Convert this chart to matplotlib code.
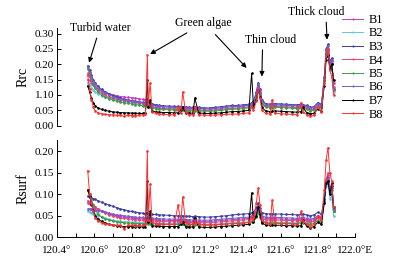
import matplotlib
matplotlib.use('Agg')
import matplotlib.pyplot as plt
from matplotlib.ticker import FixedLocator, FixedFormatter, MultipleLocator

plt.rcParams['font.family'] = ['Liberation Serif', 'DejaVu Serif']
plt.rcParams['mathtext.fontset'] = 'stix'

# longitude of the samples (deg E)
lon = [120.565, 120.575, 120.585, 120.595, 120.605, 120.62, 120.64, 120.66, 120.68, 120.70,
       120.72, 120.74, 120.76, 120.78, 120.80, 120.82, 120.84, 120.86, 120.875, 120.885,
       120.89, 120.90, 120.91, 120.93, 120.95, 120.97, 121.00, 121.03, 121.05, 121.065,
       121.075, 121.09, 121.11, 121.13, 121.14, 121.16, 121.19, 121.22, 121.25, 121.28,
       121.31, 121.34, 121.37, 121.40, 121.43, 121.445, 121.455, 121.47, 121.48, 121.49,
       121.50, 121.52, 121.545, 121.555, 121.57, 121.60, 121.63, 121.66, 121.69, 121.71,
       121.72, 121.74, 121.76, 121.78, 121.80, 121.82, 121.835, 121.845, 121.855, 121.865,
       121.875, 121.885]

bands = ['B1', 'B2', 'B3', 'B4', 'B5', 'B6', 'B7', 'B8']
colors = ['#c03cb4', '#5cc8dc', '#3c3ca0', '#e8407c', '#3c9c3c', '#7a5cc8', 'black', '#ff3030']

# Rrc (top panel)
rrc_b1 = [0.150, 0.148, 0.140, 0.132, 0.125, 0.118, 0.112, 0.108, 0.104, 0.100, 0.098, 0.095, 0.094, 0.092, 0.091, 0.090, 0.088, 0.086,
          0.085, 0.086, 0.080, 0.075, 0.070, 0.066, 0.064, 0.062, 0.060, 0.059,
          0.058, 0.058, 0.058, 0.057, 0.056, 0.056, 0.057, 0.056, 0.055, 0.055, 0.056, 0.058, 0.060, 0.062, 0.062, 0.064, 0.066,
          0.070, 0.075, 0.100, 0.130, 0.110, 0.080, 0.068, 0.066, 0.067, 0.068, 0.067, 0.066, 0.065, 0.064,
          0.066, 0.064, 0.062, 0.057, 0.058, 0.070, 0.066, 0.150, 0.235, 0.250, 0.200, 0.210, 0.140]
rrc_b2 = [0.140, 0.132, 0.124, 0.116, 0.110, 0.104, 0.098, 0.093, 0.090, 0.087, 0.084, 0.082, 0.080, 0.078, 0.076, 0.074, 0.072, 0.070,
          0.068, 0.069, 0.066, 0.064, 0.062, 0.060, 0.058, 0.057, 0.056, 0.055,
          0.055, 0.054, 0.054, 0.053, 0.052, 0.052, 0.053, 0.052, 0.051, 0.051, 0.052, 0.054, 0.056, 0.058, 0.058, 0.060, 0.062,
          0.066, 0.071, 0.095, 0.125, 0.105, 0.076, 0.064, 0.062, 0.063, 0.064, 0.063, 0.062, 0.061, 0.060,
          0.062, 0.060, 0.058, 0.053, 0.054, 0.066, 0.062, 0.140, 0.225, 0.240, 0.190, 0.200, 0.110]
rrc_b3 = [0.195, 0.180, 0.165, 0.150, 0.140, 0.128, 0.118, 0.110, 0.104, 0.098, 0.094, 0.090, 0.086, 0.084, 0.082, 0.080, 0.078, 0.076,
          0.074, 0.075, 0.072, 0.072, 0.070, 0.068, 0.066, 0.065, 0.064, 0.063,
          0.063, 0.062, 0.062, 0.061, 0.060, 0.060, 0.061, 0.060, 0.058, 0.058, 0.060, 0.062, 0.064, 0.066, 0.066, 0.068, 0.070,
          0.075, 0.080, 0.110, 0.140, 0.120, 0.085, 0.072, 0.070, 0.071, 0.072, 0.071, 0.070, 0.069, 0.068,
          0.070, 0.068, 0.066, 0.060, 0.062, 0.075, 0.070, 0.160, 0.250, 0.265, 0.210, 0.220, 0.120]
rrc_b4 = [0.170, 0.160, 0.148, 0.136, 0.126, 0.116, 0.106, 0.099, 0.094, 0.090, 0.087, 0.084, 0.082, 0.080, 0.078, 0.077, 0.075, 0.073,
          0.071, 0.072, 0.068, 0.065, 0.062, 0.060, 0.058, 0.056, 0.055, 0.054,
          0.054, 0.053, 0.053, 0.052, 0.051, 0.051, 0.052, 0.051, 0.050, 0.050, 0.051, 0.053, 0.055, 0.057, 0.057, 0.059, 0.061,
          0.065, 0.070, 0.095, 0.125, 0.105, 0.075, 0.063, 0.061, 0.062, 0.063, 0.062, 0.061, 0.060, 0.059,
          0.061, 0.059, 0.057, 0.052, 0.053, 0.065, 0.061, 0.145, 0.230, 0.245, 0.195, 0.205, 0.125]
rrc_b5 = [0.185, 0.170, 0.152, 0.136, 0.122, 0.110, 0.100, 0.093, 0.088, 0.084, 0.080, 0.077, 0.075, 0.073, 0.071, 0.069, 0.067, 0.065,
          0.064, 0.066, 0.062, 0.060, 0.058, 0.056, 0.054, 0.053, 0.052, 0.051,
          0.051, 0.050, 0.050, 0.049, 0.048, 0.048, 0.049, 0.048, 0.047, 0.047, 0.048, 0.050, 0.052, 0.054, 0.054, 0.056, 0.058,
          0.064, 0.068, 0.090, 0.120, 0.100, 0.072, 0.060, 0.058, 0.059, 0.060, 0.059, 0.058, 0.057, 0.056,
          0.058, 0.056, 0.054, 0.049, 0.050, 0.062, 0.058, 0.150, 0.230, 0.240, 0.190, 0.200, 0.120]
rrc_b6 = [0.190, 0.175, 0.160, 0.146, 0.136, 0.124, 0.114, 0.106, 0.100, 0.095, 0.091, 0.087, 0.084, 0.082, 0.080, 0.078, 0.076, 0.074,
          0.072, 0.073, 0.070, 0.069, 0.067, 0.065, 0.063, 0.062, 0.061, 0.060,
          0.060, 0.059, 0.059, 0.058, 0.057, 0.057, 0.058, 0.057, 0.055, 0.055, 0.057, 0.059, 0.061, 0.063, 0.063, 0.065, 0.067,
          0.072, 0.077, 0.105, 0.135, 0.115, 0.082, 0.069, 0.067, 0.068, 0.069, 0.068, 0.067, 0.066, 0.065,
          0.067, 0.065, 0.063, 0.058, 0.059, 0.072, 0.067, 0.155, 0.245, 0.258, 0.205, 0.215, 0.115]
rrc_b7 = [0.130, 0.110, 0.090, 0.075, 0.065, 0.058, 0.053, 0.050, 0.047, 0.045, 0.044, 0.043, 0.042, 0.042, 0.041, 0.041, 0.040, 0.040,
          0.042, 0.150, 0.060, 0.085, 0.048, 0.045, 0.044, 0.043, 0.043, 0.042,
          0.042, 0.050, 0.060, 0.042, 0.041, 0.041, 0.090, 0.042, 0.040, 0.040, 0.041, 0.042, 0.044, 0.046, 0.046, 0.048, 0.050,
          0.170, 0.060, 0.085, 0.115, 0.095, 0.060, 0.048, 0.046, 0.047, 0.048, 0.047, 0.046, 0.045, 0.044,
          0.046, 0.060, 0.043, 0.039, 0.040, 0.055, 0.048, 0.130, 0.215, 0.230, 0.185, 0.200, 0.150]
rrc_b8 = [0.165, 0.120, 0.085, 0.060, 0.048, 0.042, 0.039, 0.037, 0.036, 0.035, 0.034, 0.034, 0.030, 0.034, 0.033, 0.033, 0.034, 0.035,
          0.038, 0.230, 0.070, 0.140, 0.045, 0.040, 0.038, 0.037, 0.036, 0.036,
          0.060, 0.040, 0.110, 0.045, 0.036, 0.036, 0.060, 0.036, 0.034, 0.034, 0.035, 0.036, 0.037, 0.038, 0.038, 0.040, 0.042,
          0.060, 0.050, 0.080, 0.120, 0.090, 0.050, 0.040, 0.038, 0.085, 0.040, 0.039, 0.038, 0.037, 0.036,
          0.075, 0.045, 0.036, 0.030, 0.034, 0.060, 0.045, 0.140, 0.230, 0.250, 0.180, 0.160, 0.100]

# Rsurf (bottom panel)
rs_b1 = [0.080, 0.078, 0.076, 0.073, 0.070, 0.066, 0.062, 0.058, 0.055, 0.052, 0.050, 0.048, 0.047, 0.046, 0.045, 0.044, 0.043, 0.043,
         0.042, 0.043, 0.042, 0.042, 0.041, 0.041, 0.040, 0.040, 0.039, 0.039,
         0.039, 0.039, 0.039, 0.038, 0.038, 0.037, 0.038, 0.037, 0.037, 0.037, 0.038, 0.039, 0.040, 0.041, 0.042, 0.043, 0.044,
         0.046, 0.047, 0.056, 0.068, 0.056, 0.046, 0.044, 0.043, 0.043, 0.043, 0.043, 0.042, 0.042, 0.041,
         0.042, 0.043, 0.041, 0.039, 0.041, 0.047, 0.044, 0.085, 0.130, 0.145, 0.110, 0.120, 0.060]
rs_b2 = [0.060, 0.059, 0.057, 0.055, 0.053, 0.050, 0.047, 0.044, 0.042, 0.040, 0.038, 0.037, 0.036, 0.036, 0.035, 0.035, 0.034, 0.034,
         0.034, 0.035, 0.034, 0.034, 0.033, 0.033, 0.033, 0.033, 0.032, 0.032,
         0.032, 0.032, 0.032, 0.031, 0.031, 0.031, 0.031, 0.031, 0.030, 0.030, 0.031, 0.032, 0.033, 0.034, 0.035, 0.035, 0.036,
         0.038, 0.039, 0.048, 0.060, 0.048, 0.038, 0.036, 0.035, 0.035, 0.035, 0.035, 0.035, 0.034, 0.034,
         0.035, 0.036, 0.034, 0.032, 0.034, 0.040, 0.037, 0.080, 0.120, 0.125, 0.090, 0.095, 0.050]
rs_b3 = [0.095, 0.094, 0.092, 0.090, 0.088, 0.085, 0.081, 0.078, 0.075, 0.072, 0.069, 0.066, 0.064, 0.062, 0.060, 0.058, 0.057, 0.056,
         0.055, 0.056, 0.055, 0.054, 0.053, 0.053, 0.052, 0.052, 0.051, 0.050,
         0.050, 0.050, 0.050, 0.049, 0.049, 0.048, 0.049, 0.048, 0.047, 0.047, 0.048, 0.049, 0.050, 0.052, 0.053, 0.054, 0.055,
         0.057, 0.058, 0.068, 0.080, 0.068, 0.057, 0.055, 0.054, 0.054, 0.054, 0.054, 0.053, 0.053, 0.052,
         0.053, 0.054, 0.052, 0.050, 0.052, 0.058, 0.055, 0.090, 0.130, 0.140, 0.110, 0.120, 0.060]
rs_b4 = [0.085, 0.082, 0.078, 0.074, 0.070, 0.065, 0.060, 0.056, 0.052, 0.049, 0.047, 0.045, 0.044, 0.043, 0.042, 0.041, 0.040, 0.040,
         0.039, 0.040, 0.039, 0.039, 0.038, 0.038, 0.037, 0.037, 0.036, 0.036,
         0.036, 0.036, 0.036, 0.035, 0.035, 0.034, 0.035, 0.034, 0.034, 0.034, 0.035, 0.036, 0.037, 0.038, 0.039, 0.040, 0.041,
         0.043, 0.044, 0.053, 0.065, 0.053, 0.043, 0.041, 0.040, 0.040, 0.040, 0.040, 0.039, 0.039, 0.038,
         0.039, 0.040, 0.038, 0.036, 0.038, 0.044, 0.041, 0.085, 0.135, 0.150, 0.115, 0.125, 0.065]
rs_b5 = [0.110, 0.100, 0.088, 0.076, 0.064, 0.054, 0.047, 0.043, 0.040, 0.038, 0.036, 0.035, 0.034, 0.033, 0.033, 0.032, 0.032, 0.032,
         0.032, 0.033, 0.032, 0.032, 0.031, 0.031, 0.031, 0.030, 0.030, 0.030,
         0.030, 0.030, 0.030, 0.029, 0.029, 0.029, 0.029, 0.029, 0.028, 0.028, 0.029, 0.030, 0.031, 0.032, 0.033, 0.033, 0.034,
         0.036, 0.037, 0.046, 0.058, 0.046, 0.036, 0.034, 0.033, 0.033, 0.033, 0.033, 0.033, 0.032, 0.032,
         0.033, 0.034, 0.032, 0.030, 0.032, 0.038, 0.035, 0.085, 0.125, 0.135, 0.105, 0.110, 0.060]
rs_b6 = [0.065, 0.066, 0.066, 0.065, 0.064, 0.062, 0.060, 0.058, 0.056, 0.054, 0.052, 0.051, 0.050, 0.049, 0.048, 0.047, 0.046, 0.046,
         0.045, 0.046, 0.045, 0.045, 0.044, 0.044, 0.043, 0.043, 0.042, 0.042,
         0.042, 0.042, 0.042, 0.041, 0.041, 0.040, 0.041, 0.040, 0.040, 0.040, 0.041, 0.042, 0.043, 0.044, 0.045, 0.046, 0.047,
         0.049, 0.050, 0.060, 0.072, 0.060, 0.049, 0.047, 0.046, 0.046, 0.046, 0.046, 0.045, 0.045, 0.044,
         0.045, 0.046, 0.044, 0.042, 0.044, 0.050, 0.047, 0.085, 0.125, 0.135, 0.105, 0.115, 0.065]
rs_b7 = [0.110, 0.095, 0.078, 0.062, 0.050, 0.042, 0.037, 0.033, 0.030, 0.028, 0.027, 0.026, 0.025, 0.025, 0.025, 0.024, 0.024, 0.024,
         0.025, 0.130, 0.035, 0.060, 0.027, 0.026, 0.026, 0.025, 0.025, 0.025,
         0.025, 0.030, 0.035, 0.025, 0.024, 0.024, 0.045, 0.024, 0.023, 0.023, 0.024, 0.025, 0.026, 0.027, 0.028, 0.029, 0.030,
         0.103, 0.035, 0.050, 0.070, 0.055, 0.033, 0.029, 0.028, 0.028, 0.028, 0.028, 0.027, 0.027, 0.026,
         0.027, 0.040, 0.026, 0.022, 0.025, 0.035, 0.030, 0.080, 0.125, 0.130, 0.100, 0.125, 0.070]
rs_b8 = [0.155, 0.100, 0.080, 0.060, 0.045, 0.038, 0.034, 0.031, 0.030, 0.029, 0.028, 0.028, 0.020, 0.028, 0.028, 0.027, 0.028, 0.028,
         0.030, 0.200, 0.040, 0.124, 0.035, 0.032, 0.031, 0.031, 0.030, 0.030,
         0.075, 0.035, 0.094, 0.035, 0.030, 0.030, 0.040, 0.030, 0.029, 0.029, 0.029, 0.030, 0.031, 0.032, 0.032, 0.033, 0.035,
         0.050, 0.040, 0.080, 0.115, 0.075, 0.040, 0.033, 0.032, 0.087, 0.033, 0.032, 0.032, 0.031, 0.030,
         0.060, 0.038, 0.030, 0.025, 0.030, 0.050, 0.040, 0.110, 0.180, 0.208, 0.150, 0.130, 0.070]

rrc = [rrc_b1, rrc_b2, rrc_b3, rrc_b4, rrc_b5, rrc_b6, rrc_b7, rrc_b8]
rsurf = [rs_b1, rs_b2, rs_b3, rs_b4, rs_b5, rs_b6, rs_b7, rs_b8]

xticks = [120.4, 120.6, 120.8, 121.0, 121.2, 121.4, 121.6, 121.8, 122.0]
xticklabels = ['120.4°', '120.6°', '120.8°', '121.0°', '121.2°', '121.4°', '121.6°', '121.8°', '122.0°E']
rrc_ticks = [0.00, 0.05, 0.10, 0.15, 0.20, 0.25, 0.30]
rrc_ticklabels = ['0.00', '0.05', '1.10', '0.15', '0.20', '0.25', '0.30']
rs_ticks = [0.00, 0.05, 0.10, 0.15, 0.20]

fig = plt.figure(figsize=(3.97, 2.63), dpi=100)
ax1 = fig.add_axes([0.1436, 0.522, 0.7506, 0.3715])
ax2 = fig.add_axes([0.1436, 0.0977, 0.7506, 0.370])

for i in range(8):
    ax1.plot(lon, rrc[i], color=colors[i], lw=0.7, marker='.', markersize=1.8, label=bands[i])
    ax2.plot(lon, rsurf[i], color=colors[i], lw=0.7, marker='.', markersize=1.8, label=bands[i])

for ax in (ax1, ax2):
    ax.set_xlim(120.4, 122.0)
    ax.spines['top'].set_visible(False)
    ax.spines['right'].set_visible(False)
    ax.tick_params(direction='in', labelsize=8, length=3, width=0.7, pad=2)
    for s in ax.spines.values():
        s.set_linewidth(0.7)

ax1.spines['bottom'].set_visible(False)
ax1.set_xticks([])
ax1.set_ylim(0, 0.318)
ax1.yaxis.set_major_locator(FixedLocator(rrc_ticks))
ax1.yaxis.set_major_formatter(FixedFormatter(rrc_ticklabels))
ax1.set_ylabel('Rrc', fontsize=10, labelpad=4)

ax2.set_ylim(0, 0.226)
ax2.set_yticks(rs_ticks)
ax2.set_yticklabels(['%.2f' % t for t in rs_ticks])
ax2.set_xticks(xticks)
ax2.set_xticklabels(xticklabels)
ax2.xaxis.set_minor_locator(MultipleLocator(0.1))
ax2.tick_params(axis='x', which='both', direction='in', length=3, width=0.7, pad=6)
ax2.set_ylabel('Rsurf', fontsize=10, labelpad=4)

ap = dict(arrowstyle='-|>', color='k', lw=0.8, mutation_scale=7, shrinkA=1, shrinkB=0)
ax1.annotate('Turbid water', xy=(120.572, 0.205), xytext=(120.63, 0.318), ha='center', va='center',
             fontsize=8.5, arrowprops=ap, annotation_clip=False)
ax1.annotate('Green algae', xy=(120.90, 0.233), xytext=(121.185, 0.333), ha='center', va='center',
             fontsize=8.5, arrowprops=ap, annotation_clip=False)
ax1.annotate('', xy=(121.418, 0.188), xytext=(121.245, 0.30), arrowprops=ap, annotation_clip=False)
ax1.annotate('Thin cloud', xy=(121.50, 0.16), xytext=(121.545, 0.28), ha='center', va='center',
             fontsize=8.5, arrowprops=dict(ap, relpos=(0.35, 0.0)), annotation_clip=False)
ax1.annotate('Thick cloud', xy=(121.85, 0.28), xytext=(121.79, 0.37), ha='center', va='center',
             fontsize=8.5, arrowprops=dict(ap, relpos=(0.68, 0.0)), annotation_clip=False)

h, l = ax1.get_legend_handles_labels()
fig.legend(h, l, loc='upper left', bbox_to_anchor=(342 / 397, 1 - 14 / 263), frameon=False,
           fontsize=9, handlelength=1.7, handletextpad=0.4, labelspacing=0.12, borderpad=0,
           borderaxespad=0, markerscale=0.6)

fig.savefig('out.png', dpi=100)
